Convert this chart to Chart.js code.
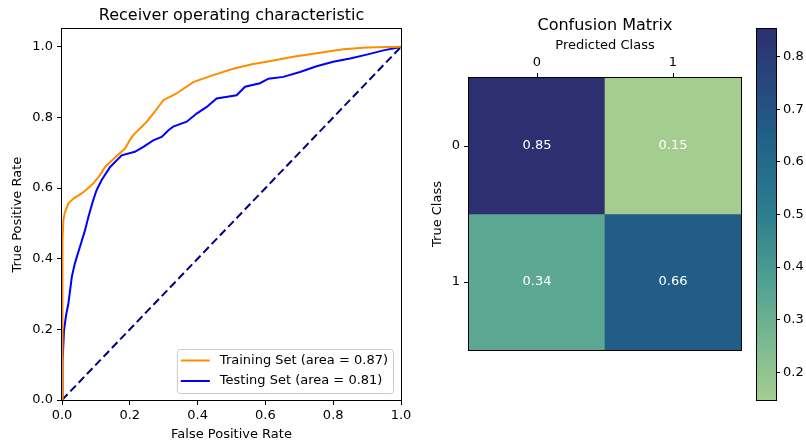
<!DOCTYPE html>
<html>
<head>
<meta charset="utf-8">
<script src="https://cdn.jsdelivr.net/npm/chart.js@4.4.0/dist/chart.umd.min.js"></script>
<style>
  html, body { margin: 0; padding: 0; background: #fff; }
  #page { position: relative; width: 806px; height: 443px; overflow: hidden; }
  #page canvas { position: absolute; top: 0; }
  #roc { left: 0; }
  #cm  { left: 420px; }
  #cbar { left: 740px; }
</style>
</head>
<body>
<div id="page">
  <canvas id="roc" width="415" height="443"></canvas>
  <canvas id="cm" width="336" height="443"></canvas>
  <canvas id="cbar" width="66" height="443"></canvas>
</div>
<script>
/* ROC curves */
var FPR_TRAIN = [0, 0.001, 0.002, 0.004, 0.008, 0.019, 0.035, 0.058, 0.075, 0.092, 0.112, 0.127, 0.151, 0.186, 0.2, 0.21, 0.23, 0.25, 0.269, 0.299, 0.338, 0.387, 0.446, 0.505, 0.56, 0.604, 0.682, 0.751, 0.83, 0.899, 1];
var TPR_TRAIN = [0, 0.3, 0.45, 0.509, 0.53, 0.557, 0.571, 0.585, 0.598, 0.613, 0.637, 0.66, 0.682, 0.712, 0.736, 0.75, 0.769, 0.788, 0.811, 0.849, 0.868, 0.9, 0.92, 0.938, 0.951, 0.958, 0.972, 0.982, 0.993, 0.998, 1];
var FPR_TEST  = [0, 0.001, 0.002, 0.006, 0.012, 0.019, 0.029, 0.038, 0.053, 0.068, 0.078, 0.092, 0.102, 0.117, 0.142, 0.176, 0.215, 0.24, 0.269, 0.294, 0.314, 0.328, 0.368, 0.397, 0.427, 0.456, 0.515, 0.54, 0.584, 0.609, 0.653, 0.702, 0.751, 0.8, 0.85, 0.899, 0.948, 1];
var TPR_TEST  = [0, 0.019, 0.104, 0.198, 0.24, 0.274, 0.349, 0.387, 0.434, 0.481, 0.519, 0.566, 0.594, 0.623, 0.66, 0.693, 0.703, 0.717, 0.735, 0.745, 0.764, 0.774, 0.788, 0.811, 0.83, 0.854, 0.863, 0.887, 0.897, 0.91, 0.915, 0.929, 0.945, 0.958, 0.967, 0.978, 0.99, 1];
var CHANCE_X  = [0, 1];
var CHANCE_Y  = [0, 1];
var ROC_TICKS = [0, 0.2, 0.4, 0.6, 0.8, 1.0];
var TRAIN_LABEL = 'Training Set (area = 0.87)';
var TEST_LABEL  = 'Testing Set (area = 0.81)';

/* Confusion matrix, normalised by true class */
var PRED_CLASSES = ['0', '1'];
var TRUE_CLASSES = ['0', '1'];
var CM_ROW0 = [0.853, 0.147];
var CM_ROW1 = [0.338, 0.662];
var CM_VALUES = [CM_ROW0, CM_ROW1];
var CBAR_TICKS = [0.2, 0.3, 0.4, 0.5, 0.6, 0.7, 0.8];

var CM_MIN = Math.min.apply(null, CM_VALUES.flat());
var CM_MAX = Math.max.apply(null, CM_VALUES.flat());

/* crest-like colormap, sampled from the colorbar */
var CREST_POS = [0, 0.15, 0.3, 0.5, 0.7, 0.85, 1];
var CREST_RGB = [[165,205,144],[125,186,145],[84,164,146],[45,126,142],[32,98,136],[38,72,126],[44,48,112]];

function rgbStr(c) { return 'rgb(' + c.map(Math.round).join(',') + ')'; }
function crest(t) {
  t = Math.max(0, Math.min(1, t));
  for (var i = 1; i < CREST_POS.length; i++) {
    if (t <= CREST_POS[i]) {
      var f = (t - CREST_POS[i - 1]) / (CREST_POS[i] - CREST_POS[i - 1]);
      var a = CREST_RGB[i - 1], b = CREST_RGB[i];
      return rgbStr([0, 1, 2].map(function (k) { return a[k] + (b[k] - a[k]) * f; }));
    }
  }
  return rgbStr(CREST_RGB[CREST_RGB.length - 1]);
}
function pts(xs, ys) { return xs.map(function (x, i) { return { x: x, y: ys[i] }; }); }
function fixTicks(list) { return function (s) { s.ticks = list.map(function (v) { return { value: v }; }); }; }

Chart.defaults.font.family = '"DejaVu Sans", sans-serif';
Chart.defaults.font.size = 13;
Chart.defaults.color = '#000';

var AXIS_GRID = { drawOnChartArea: false, tickLength: 5, color: '#000' };

/* axes frame drawn over the data, like matplotlib spines */
var frame = {
  id: 'frame',
  afterDatasetsDraw: function (chart) {
    var a = chart.chartArea, ctx = chart.ctx;
    ctx.save();
    ctx.strokeStyle = '#000'; ctx.lineWidth = 1;
    var l = Math.round(a.left) - 0.5, t = Math.round(a.top) - 0.5;
    ctx.strokeRect(l, t, Math.round(a.right) + 0.5 - l, Math.round(a.bottom) + 0.5 - t);
    ctx.restore();
  }
};

/* legend in the lower right of the plot */
var rocLegend = {
  id: 'rocLegend',
  afterDatasetsDraw: function (chart) {
    var a = chart.chartArea, ctx = chart.ctx;
    var items = chart.data.datasets.slice(0, 2);
    ctx.save();
    ctx.font = '13px "DejaVu Sans"';
    var tw = Math.max.apply(null, items.map(function (d) { return ctx.measureText(d.label).width; }));
    var w = 43 + tw + 5, h = 44;
    var x = a.right - 8 - w, y = a.bottom - 7 - h;
    ctx.beginPath(); ctx.roundRect(x + 0.5, y + 0.5, w, h, 3);
    ctx.fillStyle = 'rgba(255,255,255,0.8)'; ctx.fill();
    ctx.strokeStyle = '#cccccc'; ctx.lineWidth = 1; ctx.stroke();
    items.forEach(function (d, i) {
      var cy = y + 11.5 + i * 20.5;
      ctx.strokeStyle = d.borderColor; ctx.lineWidth = 2;
      ctx.beginPath(); ctx.moveTo(x + 4, cy); ctx.lineTo(x + 33, cy); ctx.stroke();
      ctx.fillStyle = '#000'; ctx.textBaseline = 'middle'; ctx.textAlign = 'left';
      ctx.fillText(d.label, x + 43, cy);
    });
    ctx.restore();
  }
};

new Chart(document.getElementById('roc'), {
  type: 'scatter',
  data: {
    datasets: [
      { label: TRAIN_LABEL, data: pts(FPR_TRAIN, TPR_TRAIN), showLine: true, borderColor: '#ff8c00', borderWidth: 2, pointRadius: 0, tension: 0 },
      { label: TEST_LABEL, data: pts(FPR_TEST, TPR_TEST), showLine: true, borderColor: '#0000ff', borderWidth: 2, pointRadius: 0, tension: 0 },
      { label: 'chance', data: pts(CHANCE_X, CHANCE_Y), showLine: true, borderColor: '#000080', borderWidth: 2, borderDash: [8, 4], pointRadius: 0 }
    ]
  },
  options: {
    responsive: false, animation: false, events: [],
    layout: { padding: { right: 14 } },
    plugins: {
      legend: { display: false }, tooltip: { enabled: false },
      title: { display: true, text: 'Receiver operating characteristic', fullSize: false,
        font: { size: 16, weight: 'normal' }, color: '#000', padding: { top: 6, bottom: 4 } }
    },
    scales: {
      x: { type: 'linear', min: 0, max: 1, afterBuildTicks: fixTicks(ROC_TICKS),
        afterFit: function (s) { s.height = 43; },
        ticks: { padding: 3, maxRotation: 0, callback: function (v) { return v.toFixed(1); } },
        grid: AXIS_GRID, border: { display: false },
        title: { display: true, text: 'False Positive Rate', padding: { top: 0, bottom: 1 } } },
      y: { type: 'linear', min: 0, max: 1.05, afterBuildTicks: fixTicks(ROC_TICKS),
        afterFit: function (s) { s.width = 62; },
        ticks: { padding: 4, callback: function (v) { return v.toFixed(1); } },
        grid: AXIS_GRID, border: { display: false },
        title: { display: true, text: 'True Positive Rate', padding: { top: 10, bottom: 0 } } }
    }
  },
  plugins: [frame, rocLegend]
});

/* value labels in the matrix cells */
var cellText = {
  id: 'cellText',
  afterDatasetsDraw: function (chart) {
    var ctx = chart.ctx;
    ctx.save();
    ctx.font = '13px "DejaVu Sans"'; ctx.fillStyle = '#fff';
    ctx.textAlign = 'center'; ctx.textBaseline = 'middle';
    chart.data.datasets.forEach(function (ds, i) {
      chart.getDatasetMeta(i).data.forEach(function (bar, j) {
        ctx.fillText(CM_VALUES[i][j].toFixed(2), bar.x, (bar.y + bar.base) / 2);
      });
    });
    ctx.restore();
  }
};

new Chart(document.getElementById('cm'), {
  type: 'bar',
  data: {
    labels: PRED_CLASSES,
    datasets: TRUE_CLASSES.map(function (tc, i) {
      return {
        label: tc,
        data: PRED_CLASSES.map(function () { return 1; }),
        backgroundColor: CM_VALUES[i].map(function (v) { return crest((v - CM_MIN) / (CM_MAX - CM_MIN)); }),
        borderWidth: 0, barPercentage: 1, categoryPercentage: 1
      };
    })
  },
  options: {
    responsive: false, animation: false, events: [],
    layout: { padding: { right: 15, bottom: 93 } },
    plugins: {
      legend: { display: false }, tooltip: { enabled: false },
      title: { display: true, text: 'Confusion Matrix', fullSize: false,
        font: { size: 16, weight: 'normal' }, color: '#000', padding: { top: 16, bottom: 0 } }
    },
    scales: {
      x: { position: 'top', stacked: true,
        afterFit: function (s) { s.height = 42.8; },
        ticks: { padding: 3 },
        grid: { drawOnChartArea: false, tickLength: 5, color: '#000', offset: false }, border: { display: false },
        title: { display: true, text: 'Predicted Class', padding: { top: 2.6, bottom: 0 } } },
      y: { type: 'linear', min: 0, max: TRUE_CLASSES.length, reverse: true, stacked: true,
        afterBuildTicks: function (s) { s.ticks = TRUE_CLASSES.map(function (c, i) { return { value: i + 0.5 }; }); },
        afterFit: function (s) { s.width = 49; },
        ticks: { padding: 4, callback: function (v, i) { return TRUE_CLASSES[i]; } },
        grid: AXIS_GRID, border: { display: false },
        title: { display: true, text: 'True Class', padding: { top: 9.7, bottom: 0 } } }
    }
  },
  plugins: [frame, cellText]
});

/* colorbar: one floating bar from min to max filled with the colormap */
new Chart(document.getElementById('cbar'), {
  type: 'bar',
  data: {
    labels: [''],
    datasets: [{
      data: [[CM_MIN, CM_MAX]],
      backgroundColor: function (c) {
        var ch = c.chart;
        if (!ch.chartArea) return crest(0.5);
        var y = ch.scales.y;
        var g = ch.ctx.createLinearGradient(0, y.getPixelForValue(CM_MIN), 0, y.getPixelForValue(CM_MAX));
        CREST_POS.forEach(function (p, i) { g.addColorStop(p, rgbStr(CREST_RGB[i])); });
        return g;
      },
      borderWidth: 0, barPercentage: 1, categoryPercentage: 1
    }]
  },
  options: {
    responsive: false, animation: false, events: [],
    layout: { padding: { left: 17, top: 29, bottom: 43 } },
    plugins: { legend: { display: false }, tooltip: { enabled: false } },
    scales: {
      x: { display: false },
      y: { position: 'right', min: CM_MIN, max: CM_MAX, afterBuildTicks: fixTicks(CBAR_TICKS),
        afterFit: function (s) { s.width = 30; },
        ticks: { padding: 3, callback: function (v) { return v.toFixed(1); } },
        grid: { drawOnChartArea: false, tickLength: 4, color: '#000' }, border: { display: false } }
    }
  },
  plugins: [frame]
});
</script>
</body>
</html>
